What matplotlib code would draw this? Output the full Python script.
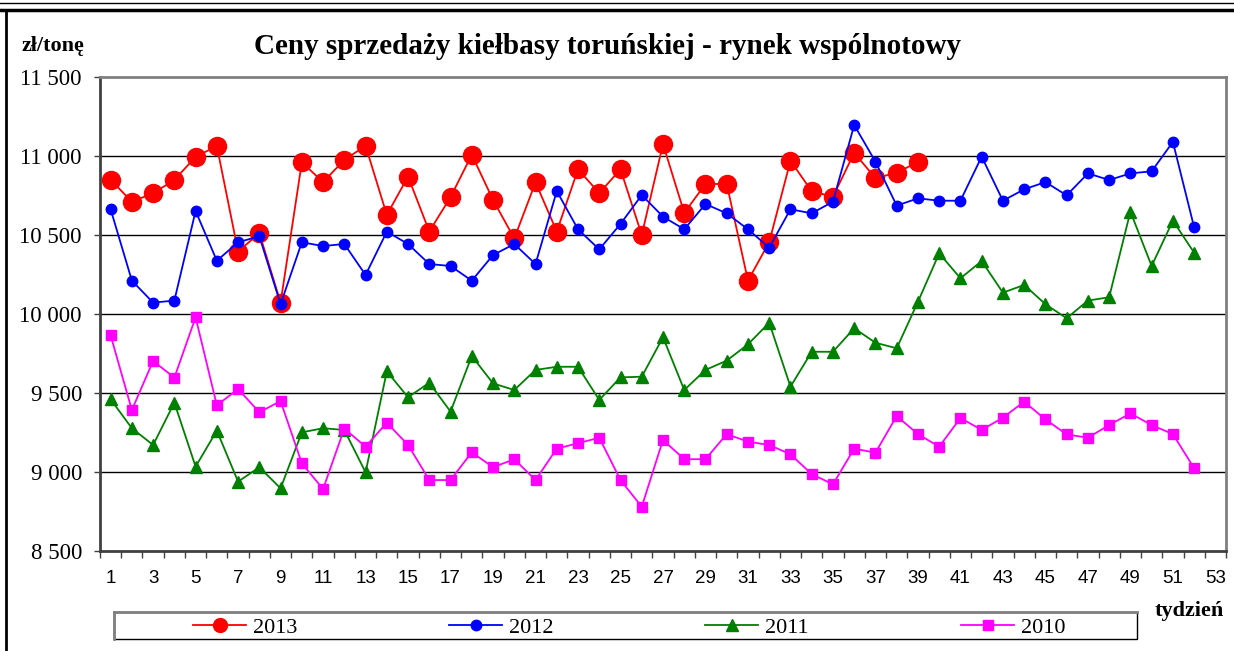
import numpy as np
import matplotlib
matplotlib.use("Agg")
import matplotlib.pyplot as plt
from matplotlib.lines import Line2D
from matplotlib.patches import Rectangle

weeks = np.arange(1, 54)

y2013 = [10850, 10710, 10765, 10848, 10995, 11063, 10395, 10512, 10072, 10960,
         10835, 10975, 11065, 10627, 10870, 10522, 10740, 11008, 10722, 10478,
         10833, 10522, 10916, 10765, 10916, 10500, 11076, 10640, 10823, 10823,
         10211, 10455, 10970, 10777, 10742, 11020, 10860, 10894, 10962]
y2012 = [10663, 10211, 10072, 10085, 10652, 10337, 10454, 10492, 10062, 10454,
         10430, 10443, 10247, 10521, 10443, 10316, 10304, 10211, 10373, 10443,
         10316, 10778, 10536, 10409, 10570, 10753, 10616, 10536, 10696, 10637,
         10536, 10420, 10663, 10637, 10711, 11196, 10964, 10686, 10732, 10717,
         10717, 10996, 10717, 10789, 10835, 10751, 10890, 10848, 10890, 10903,
         11089, 10549]
y2011 = [9460, 9277, 9171, 9439, 9034, 9262, 8939, 9030, 8897, 9251,
         9277, 9266, 8998, 9637, 9473, 9565, 9382, 9734, 9561, 9519,
         9646, 9666, 9666, 9456, 9599, 9603, 9853, 9519, 9646, 9705,
         9808, 9945, 9540, 9761, 9761, 9910, 9818, 9783, 10077, 10384,
         10226, 10335, 10135, 10184, 10062, 9973, 10085, 10106, 10648, 10304,
         10591, 10388]
y2010 = [9865, 9392, 9703, 9597, 9979, 9422, 9525, 9378, 9449, 9055,
         8892, 9275, 9160, 9312, 9171, 8949, 8949, 9125, 9030, 9081,
         8949, 9148, 9182, 9217, 8949, 8780, 9203, 9081, 9081, 9240,
         9192, 9171, 9112, 8987, 8922, 9148, 9122, 9354, 9240, 9160,
         9342, 9266, 9344, 9445, 9333, 9238, 9217, 9297, 9371, 9297,
         9240, 9024]

yticks = [8500, 9000, 9500, 10000, 10500, 11000, 11500]
ytick_labels = ["8 500", "9 000", "9 500", "10 000", "10 500", "11 000", "11 500"]

W, H = 1234, 651
fig = plt.figure(figsize=(W / 100, H / 100), dpi=100)
ax = fig.add_axes([100 / W, 1 - 551 / H, 1126 / W, 474 / H])

# name, values, colour, marker, size in plot, size in legend
series = [
    ("2013", y2013, "#FF0000", "o", 13, 10),
    ("2012", y2012, "#0000FF", "o", 7.5, 7.5),
    ("2011", y2011, "#008000", "^", 8.5, 8.5),
    ("2010", y2010, "#FF00FF", "s", 7.5, 7.5),
]
for i, (name, vals, col, mk, ms, _) in enumerate(series):
    ax.plot(weeks[:len(vals)], vals, color=col, lw=1.3, marker=mk, ms=ms,
            mec=col, mfc=col, zorder=3 + i)

ax.set_xlim(0.5, 53.5)
ax.set_ylim(8500, 11500)
ax.set_yticks(yticks)
ax.set_yticklabels(ytick_labels, family="Liberation Serif", fontsize=16.5)
for v in yticks[1:-1]:
    ax.axhline(v, color="black", lw=1.0, zorder=1)

# category axis: ticks between categories, labels on odd weeks
ax.set_xticks(np.arange(0.5, 54, 1))
ax.set_xticklabels([])
ax.set_xticks(weeks[::2], minor=True)
ax.set_xticklabels([str(w) for w in weeks[::2]], minor=True,
                   family="Liberation Sans", fontsize=13.5)
ax.tick_params(axis="x", which="major", length=5, width=1, color="#404040", direction="out")
ax.tick_params(axis="x", which="minor", length=0, pad=14)
ax.tick_params(axis="y", length=4.5, width=1, color="#404040", pad=8.5)

for s in ax.spines.values():
    s.set_color("#808080")
    s.set_linewidth(2)
ax.spines["left"].set_color("#404040")
ax.spines["bottom"].set_color("#404040")

fig.text(608 / W, 1 - 47 / H, "Ceny sprzedaży kiełbasy toruńskiej - rynek wspólnotowy",
         ha="center", va="center", family="Liberation Serif", fontsize=21, weight="bold")
fig.text(22 / W, 1 - 46 / H, "zł/tonę", ha="left", va="center",
         family="Liberation Serif", fontsize=16, weight="bold")
fig.text(1224 / W, 1 - 611 / H, "tydzień", ha="right", va="center",
         family="Liberation Serif", fontsize=16, weight="bold")

# legend: box plus four entries, one every 256 px
fig.patches.append(Rectangle((114 / W, 1 - 639 / H), 1023 / W, 27 / H,
                             transform=fig.transFigure, fill=False,
                             ec="black", lw=1))
fig.add_artist(Line2D([114 / W, 1137 / W], [1 - 612 / H] * 2, color="#808080", lw=2))
fig.add_artist(Line2D([114 / W] * 2, [1 - 639 / H, 1 - 612 / H], color="#808080", lw=2))
for i, (name, vals, col, mk, _, lms) in enumerate(series):
    h = Line2D([], [], color=col, lw=1.3, marker=mk, ms=lms, mec=col, mfc=col)
    fig.legend([h], [name], loc="center left",
               bbox_to_anchor=((193 + 256 * i) / W, 1 - 628 / H), frameon=False,
               prop={"family": "Liberation Serif", "size": 16},
               handlelength=2.4, handletextpad=0.3, borderpad=0, borderaxespad=0)

# outer frame of the original page
fig.add_artist(Line2D([0, 1], [1 - 3 / H] * 2, color="black", lw=1))
fig.add_artist(Line2D([0, 1], [1 - 10 / H] * 2, color="black", lw=2.5))
fig.add_artist(Line2D([6 / W] * 2, [0, 1 - 10 / H], color="black", lw=2))

fig.savefig("out.png", dpi=100)
